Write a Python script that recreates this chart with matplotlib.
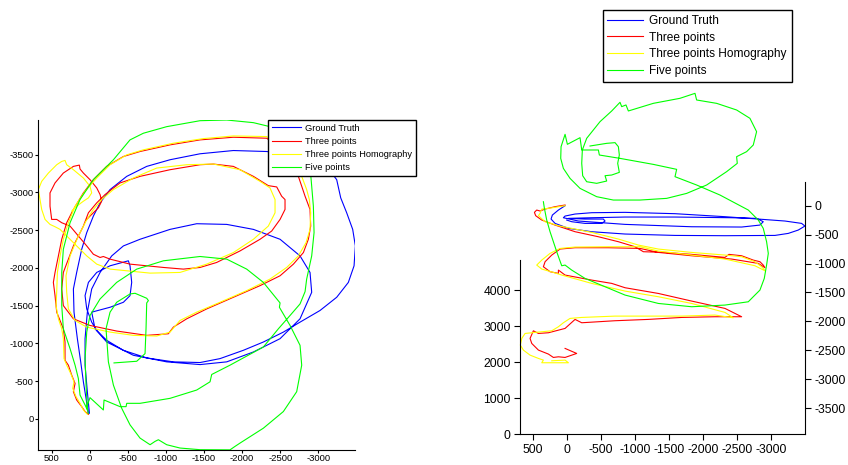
import matplotlib
matplotlib.use('Agg')
import matplotlib.pyplot as plt

plt.rcParams['font.family'] = ['Liberation Sans', 'DejaVu Sans']
plt.rcParams['axes.unicode_minus'] = False

labels = ['Ground Truth', 'Three points', 'Three points Homography', 'Five points']
colors = ['#0000ff', '#ff0000', '#ffff00', '#00ff00']

# ---- top view (left panel): x, y
gt_top_x = [20, 48, 83, 118, 162, 206, 214, 171, 105, 39, -48, -136, -267, -486, -748, -1054, -1448, -1885,
            -2323, -2760, -3110, -3241, -3294, -3372, -3451, -3486, -3469, -3394, -3241, -3022, -2760, -2541,
            -2279, -2016, -1710, -1448, -1098, -748, -442, -223, -92, -26, 39, 61, 17, -92, -267, -507, -529,
            -551, -529, -442, -267, -26, -70, -223, -573, -1010, -1448, -1798, -2148, -2498, -2760, -2913,
            -2891, -2760, -2498, -2148, -1798, -1404, -1054, -660, -442, -289, -136, -26, 31, 61, 61, 31, 4]
gt_top_y = [-75, -272, -491, -755, -1062, -1413, -1720, -1939, -2246, -2466, -2685, -2860, -3036, -3211, -3343,
            -3431, -3510, -3553, -3540, -3474, -3343, -3167, -2926, -2729, -2509, -2290, -2027, -1807, -1610,
            -1435, -1281, -1149, -1018, -908, -798, -746, -755, -807, -908, -1040, -1171, -1281, -1456, -1632,
            -1807, -1939, -2027, -2093, -2027, -1807, -1632, -1544, -1478, -1413, -1193, -1018, -842, -755,
            -719, -755, -886, -1062, -1325, -1676, -1939, -2158, -2378, -2509, -2575, -2584, -2509, -2378,
            -2290, -2158, -1939, -1720, -1413, -1062, -711, -360, -75]

three_top_x = [17, 61, 105, 171, 214, 192, 236, 280, 324, 324, 346, 433, 455, 477, 455, 411, 367, 302, 214, 83,
               -48, -223, -442, -660, -1054, -1448, -1885, -2323, -2629, -2738, -2782, -2826, -2891, -2900,
               -2869, -2804, -2673, -2498, -2235, -1885, -1535, -1273, -1098, -1032, -748, -354, -4, 214, 346,
               367, 346, 214, 83, 17, -92, -201, -398, -660, -1054, -1448, -1623, -1885, -2148, -2344, -2454,
               -2519, -2563, -2563, -2498, -2388, -2235, -1973, -1666, -1448, -1229, -967, -529, -267, -179,
               -136, -48, 39, 149, 258, 367, 433, 499, 521, 521, 455, 346, 214, 136, 127, 83, -4, -92, -136,
               -157, -114, -26, 39]
three_top_y = [-61, -97, -162, -250, -360, -469, -579, -711, -776, -1018, -1193, -1413, -1632, -1807, -1939,
               -2158, -2378, -2597, -2773, -2992, -3167, -3343, -3474, -3540, -3628, -3694, -3729, -3716, -3474,
               -3211, -3080, -2948, -2773, -2553, -2378, -2202, -2049, -1895, -1764, -1610, -1456, -1325, -1215,
               -1127, -1106, -1163, -1237, -1325, -1500, -1720, -1939, -2290, -2553, -2729, -2860, -2970, -3124,
               -3211, -3299, -3365, -3374, -3343, -3211, -3088, -3071, -2948, -2904, -2773, -2641, -2487, -2378,
               -2224, -2071, -2005, -1983, -2005, -2049, -2115, -2150, -2137, -2180, -2290, -2422, -2553, -2597,
               -2641, -2641, -2816, -2992, -3124, -3255, -3343, -3360, -3308, -3255, -3167, -3058, -2970, -2882,
               -2795, -2707, -2641]

homog_top_x = [31, 83, 127, 179, 223, 206, 249, 302, 337, 346, 367, 411, 442, 433, 424, 389, 346, 280, 192, 61,
               -92, -267, -486, -704, -1098, -1492, -1885, -2323, -2629, -2782, -2847, -2882, -2900, -2891, -2839,
               -2738, -2585, -2366, -2060, -1710, -1404, -1185, -1054, -879, -573, -267, 39, 192, 280, 302, 311,
               258, 149, 48, -48, -157, -311, -573, -879, -1273, -1623, -1973, -2235, -2366, -2432, -2432, -2344,
               -2148, -1885, -1535, -1185, -792, -486, -267, -92, 39, 171, 302, 389, 455, 521, 586, 630, 652, 674,
               630, 542, 433, 367, 324, 302, 214, 83, -4, -26, 17, 83, 171, 236]
homog_top_y = [-61, -118, -206, -294, -404, -491, -601, -711, -798, -1062, -1193, -1325, -1500, -1676, -1939,
               -2158, -2378, -2597, -2816, -3014, -3189, -3365, -3496, -3562, -3650, -3711, -3746, -3738, -3496,
               -3211, -3036, -2904, -2729, -2509, -2334, -2158, -2005, -1851, -1698, -1544, -1413, -1303, -1149,
               -1097, -1106, -1149, -1215, -1303, -1456, -1676, -1895, -2158, -2422, -2619, -2773, -2904, -3036,
               -3189, -3321, -3365, -3374, -3299, -3145, -3058, -2904, -2729, -2553, -2378, -2202, -2049, -1939,
               -1930, -1961, -1983, -2049, -2158, -2290, -2422, -2509, -2544, -2575, -2641, -2773, -2904, -3036,
               -3145, -3255, -3365, -3409, -3422, -3365, -3299, -3189, -3080, -2992, -2926, -2882, -2816, -2751]

five_top_x = [17, 39, -4, -179, -188, -398, -477, -486, -660, -1054, -1404, -1579, -1601, -1841, -2279, -2476,
              -2629, -2760, -2826, -2847, -2913, -2944, -2935, -2913, -2891, -2760, -2366, -2148, -1798, -1448,
              -1010, -704, -529, -311, -48, 127, 258, 346, 367, 367, 346, 258, 192, 149, 127, 61, 31, 48, 61, 39,
              -4, -136, -354, -617, -967, -1448, -1798, -2060, -2279, -2498, -2489, -2629, -2760, -2782, -2716,
              -2541, -2279, -1973, -1907, -1841, -1448, -1185, -1010, -901, -857, -792, -660, -529, -420, -311,
              -245, -214, -267, -354, -529, -595, -748, -770, -748, -739, -726, -617, -319]
five_top_y = [-75, -162, -281, -118, -250, -162, -162, -206, -206, -272, -382, -491, -588, -711, -952, -1193,
              -1369, -1522, -1685, -1851, -2158, -2466, -2816, -3080, -3343, -3650, -3869, -3922, -3957, -3948,
              -3869, -3782, -3694, -3431, -3167, -2904, -2597, -2246, -1939, -1500, -1193, -930, -711, -535, -316,
              -184, -118, -447, -798, -1149, -1369, -1588, -1807, -1983, -2093, -2150, -2115, -1983, -1807,
              -1535, -1478, -1237, -974, -711, -360, -97, 123, 320, 364, 410, 408, 386, 342, 276, 298, 342, 254,
              79, -140, -447, -755, -1193, -1413, -1544, -1654, -1663, -1597, -1566, -1535, -1193, -864, -763, -741]

# ---- side view (right panel): x, z (right-hand axis values)
gt_side_x = [29, 127, 216, 235, 176, -20, -363, -853, -1588, -2323, -3058, -3254, -3401, -3499, -3450, -3205,
             -2813, -2323, -1588, -853, -363, -118, 29, 54, -167, -853, -1833, -2568, -2837, -2886, -2788, -2421,
             -1588, -853, -363, -20, -265, -534, -559, -510, -265, -69, 5]
gt_side_z = [0, -75, -162, -231, -306, -392, -450, -490, -514, -519, -514, -479, -421, -352, -306, -265, -231,
             -190, -138, -115, -121, -144, -179, -208, -265, -323, -364, -369, -335, -277, -219, -208, -196, -196,
             -208, -219, -231, -231, -265, -306, -306, -277, -248]

three_side_x = [29, 176, 323, 397, 446, 480, 461, 372, 176, -118, -461, -755, -1000, -1122, -1441, -1833, -2323,
                -2381, -2568, -2739, -2837, -2886, -2911, -2813, -2421, -1833, -1343, -1073, -608, -118, 103, 225,
                323, 348, 250, 127, 127, 29, -363, -657, -853, -1343, -1833, -2323, -2568, -2176, -1686, -1196,
                -706, -216, -118, 29, 274, 421, 495, 544, 519, 421, 274, 201, 127, 29, -142, 29]
three_side_z = [12, -17, -58, -92, -75, -115, -173, -248, -335, -450, -537, -623, -710, -796, -808, -842, -894,
                -842, -866, -941, -969, -1027, -1073, -998, -923, -866, -808, -739, -727, -727, -750, -854, -969,
                -1056, -1142, -1171, -1114, -1200, -1287, -1344, -1419, -1518, -1650, -1777, -1921, -1921, -1933,
                -1967, -1990, -2025, -1967, -2123, -2198, -2210, -2164, -2296, -2383, -2498, -2567, -2625, -2614,
                -2625, -2556, -2469]

homog_side_x = [29, 152, 274, 372, 397, 421, 323, 127, -363, -755, -1049, -1343, -1833, -2323, -2568, -2764,
                -2862, -2920, -2764, -2323, -1833, -1343, -1073, -608, -118, 103, 250, 372, 446, 372, 201, 78,
                -363, -853, -1343, -1833, -2323, -2445, -2176, -1686, -1196, -706, -216, -44, 54, 127, 225, 372,
                519, 617, 666, 687, 642, 544, 421, 348, 372, -20, 29, 225]
homog_side_z = [0, -23, -46, -58, -133, -173, -277, -346, -462, -577, -681, -750, -808, -854, -883, -969, -1056,
                -1131, -1039, -923, -854, -785, -710, -710, -715, -739, -825, -941, -1027, -1096, -1154, -1200,
                -1344, -1477, -1575, -1691, -1846, -1939, -1892, -1910, -1910, -1910, -1933, -1950, -2025, -2094,
                -2164, -2181, -2198, -2210, -2296, -2412, -2498, -2585, -2642, -2671, -2717, -2717, -2671, -2683]

five_side_x = [-338, -583, -706, -755, -769, -745, -769, -657, -559, -583, -436, -289, -230, -216, -225, -289,
               -485, -657, -779, -804, -867, -902, -1269, -1661, -1882, -1906, -2200, -2494, -2690, -2788, -2739,
               -2641, -2494, -2504, -2347, -2053, -1759, -1465, -1073, -681, -436, -191, -44, 54, 93, 88, 29, -5,
               -191, -216, -461, -475, -779, -1269, -1612, -1588, -1906, -2249, -2666, -2813, -2886, -2935, -2960,
               -2935, -2901, -2837, -2739, -2666, -2323, -1833, -1343, -853, -559, -265, -69, 29, 78, 103, 152,
               201, 250, 299, 333, 348]
five_side_z = [1033, 1079, 1091, 1021, 877, 733, 577, 531, 519, 427, 387, 415, 519, 733, 964, 1166, 1454, 1639,
               1789, 1714, 1743, 1639, 1771, 1858, 1944, 1829, 1771, 1656, 1512, 1281, 1050, 935, 848, 733, 589,
               358, 213, 127, 98, 98, 156, 300, 473, 646, 819, 1021, 1235, 1062, 1177, 964, 964, 877, 819, 715,
               629, 502, 358, 185, -75, -248, -392, -623, -825, -1027, -1258, -1460, -1575, -1662, -1719, -1748,
               -1691, -1546, -1402, -1258, -1114, -1027, -1039, -958, -796, -623, -450, -248, -46, 69]

top_xs = [gt_top_x, three_top_x, homog_top_x, five_top_x]
top_ys = [gt_top_y, three_top_y, homog_top_y, five_top_y]
side_xs = [gt_side_x, three_side_x, homog_side_x, five_side_x]
side_zs = [gt_side_z, three_side_z, homog_side_z, five_side_z]

fig = plt.figure(figsize=(8.48, 4.65), dpi=100)

# left panel
axL = fig.add_axes([0.0445, 0.0316, 0.3742, 0.7103])
for xs, ys, c in zip(top_xs, top_ys, colors):
    axL.plot(xs, ys, color=c, lw=0.8)
axL.set_xlim(682, -3482)
axL.set_ylim(416, -3957)
axL.set_xticks(range(500, -3001, -500))
axL.set_yticks(range(0, -3501, -500))
for s in ['top', 'right']:
    axL.spines[s].set_visible(False)
axL.tick_params(direction='out', length=2, labelsize=6.8, pad=1)
legL = axL.legend(labels, loc='upper left', bbox_to_anchor=(0.316, 0.742), bbox_transform=fig.transFigure,
                  fontsize=6.7, fancybox=False, edgecolor='black', framealpha=1, handlelength=3.1,
                  borderaxespad=0, borderpad=0.4, labelspacing=0.45, handletextpad=0.5)
legL.get_frame().set_linewidth(1.0)

# right panel
axR = fig.add_axes([0.6136, 0.066, 0.3357, 0.5432])
for xs, zs, c in zip(side_xs, side_zs, colors):
    axR.plot(xs, zs, color=c, lw=0.8, clip_on=False)
axR.set_xlim(687, -3500)
axR.set_ylim(-3955, 415)
axR.set_xticks(range(500, -3001, -500))
axR.set_yticks(range(0, -3501, -500))

axR2 = axR.twinx()
axR2.set_ylim(0, 7017)
axR2.set_yticks(range(0, 4001, 1000))
axR2.yaxis.tick_left()
axR.yaxis.tick_right()
axR.spines['top'].set_visible(False)
axR.spines['left'].set_visible(False)
axR.spines['right'].set_visible(True)
axR.tick_params(direction='out', length=4, labelsize=8.7, pad=3)
for s in ['top', 'right', 'bottom']:
    axR2.spines[s].set_visible(False)
axR2.spines['left'].set_visible(True)
axR2.spines['left'].set_bounds(0, 4842)
axR2.tick_params(direction='out', length=4, labelsize=8.7, pad=3)

legR = axR.legend(axR.get_lines(), labels, loc='upper left', bbox_to_anchor=(0.7107, 0.9785),
                  bbox_transform=fig.transFigure, fontsize=8.6, fancybox=False, edgecolor='black',
                  framealpha=1, handlelength=3.0, borderaxespad=0, borderpad=0.4, labelspacing=0.4,
                  handletextpad=0.5)
legR.get_frame().set_linewidth(1.0)

fig.savefig('out.png', dpi=100)
